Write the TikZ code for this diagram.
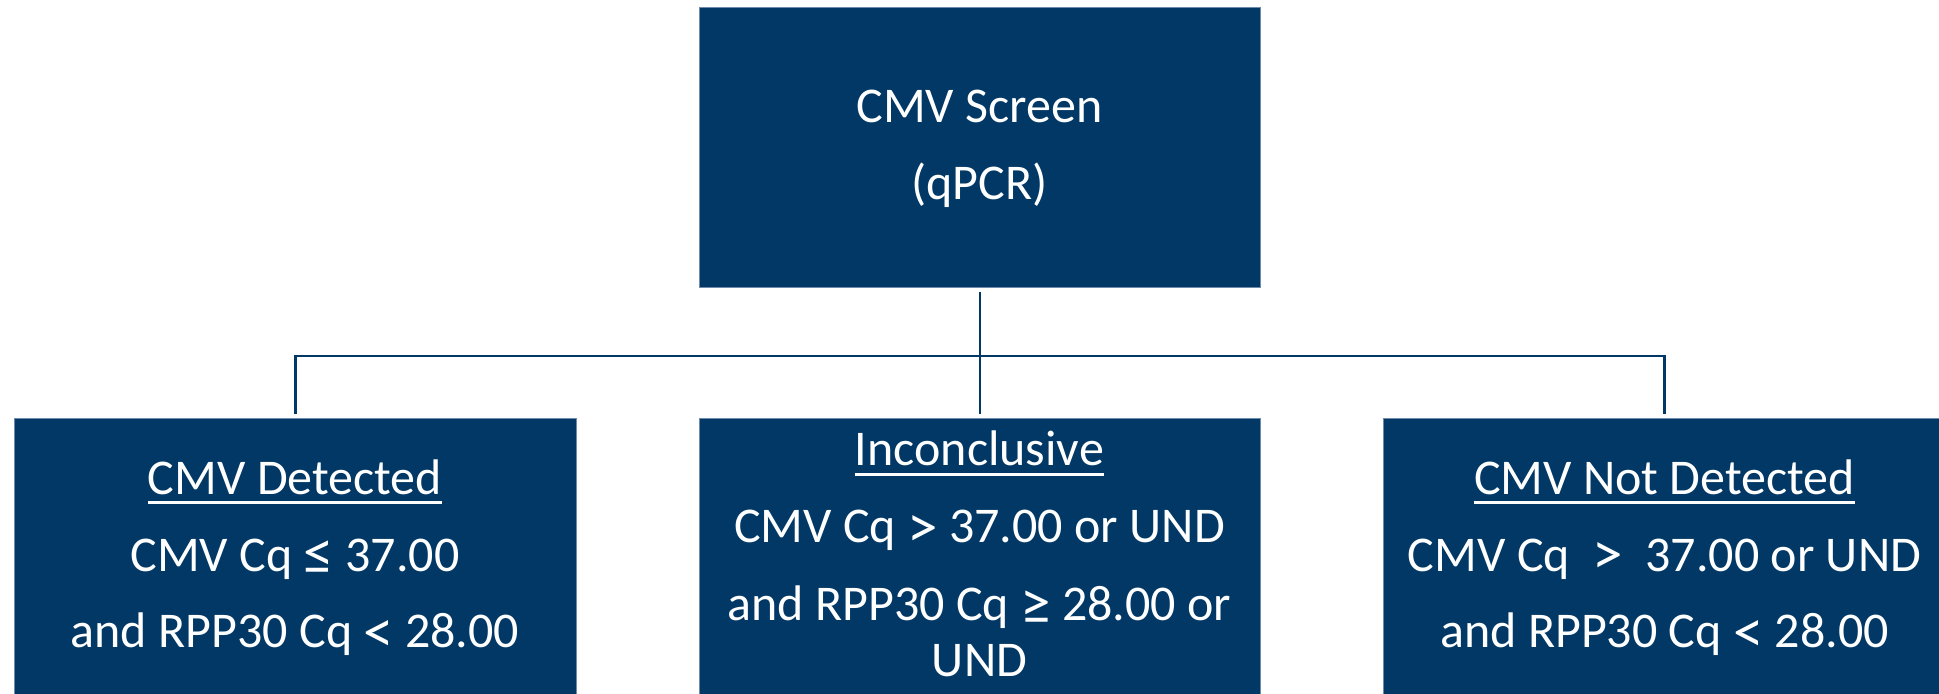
\documentclass[tikz,border=0pt]{standalone}
\usepackage{fontspec}
\usepackage{graphicx}
\setmainfont{Carlito}
\definecolor{navy}{RGB}{2,56,101}
\definecolor{edge}{RGB}{110,140,170}
\newcommand\ulx[1]{\setbox0\hbox{#1}\rlap{\rule[-4.8pt]{\wd0}{1.4pt}}\box0}
\newcommand\symx[1]{\raisebox{-2pt}{\scalebox{1.22}{#1}}}
\tikzset{
  box/.style={fill=navy, draw=edge, line width=0.4pt, inner sep=0pt, anchor=north west},
  txt/.style={text=white, align=center, font=\fontsize{25}{38.5}\selectfont, anchor=base, inner sep=0pt},
  conn/.style={draw=navy, line width=1.1pt}
}
\begin{document}
\begin{tikzpicture}[x=0.5pt,y=-0.5pt]
\useasboundingbox (0,0) rectangle (1939,694);
% boxes
\node[box, minimum width=280.5pt, minimum height=140pt] (top) at (699,7) {};
\node[box, minimum width=281pt, minimum height=138pt] (left) at (14,418) {};
\node[box, minimum width=280.5pt, minimum height=138pt] (mid) at (699,418) {};
\node[box, minimum width=278pt, minimum height=138pt] (right) at (1383,418) {};
\coordinate (rc) at (1664.5,418);
\coordinate (bus) at (979.5,356);
% texts (anchored at the baseline of the last line)
\node[txt] (ttop) at (979.5,200) {CMV Screen\\(qPCR)};
\node[txt] (tleft) at (295,648) {\ulx{CMV Detected}\\CMV Cq \symx{≤} 37.00\\and RPP30 Cq \symx{<} 28.00};
\node[txt] (tmid) at (979.5,676) {\ulx{Inconclusive}\\CMV Cq \symx{>} 37.00 or UND\\and RPP30 Cq \symx{≥} 28.00 or\\[-10.5pt]UND};
\node[txt] (tright) at (1664.5,648) {\ulx{CMV Not Detected}\\CMV Cq\ \ \symx{>}\ \ 37.00 or UND\\and RPP30 Cq \symx{<} 28.00};
% connectors
\draw[conn] ([yshift=-2pt]top.south) -- ([yshift=2pt]mid.north);
\draw[conn] ([yshift=2pt]left.north) -- (left.north |- bus) -- (rc |- bus) -- ([yshift=2pt]rc);
\end{tikzpicture}
\end{document}
